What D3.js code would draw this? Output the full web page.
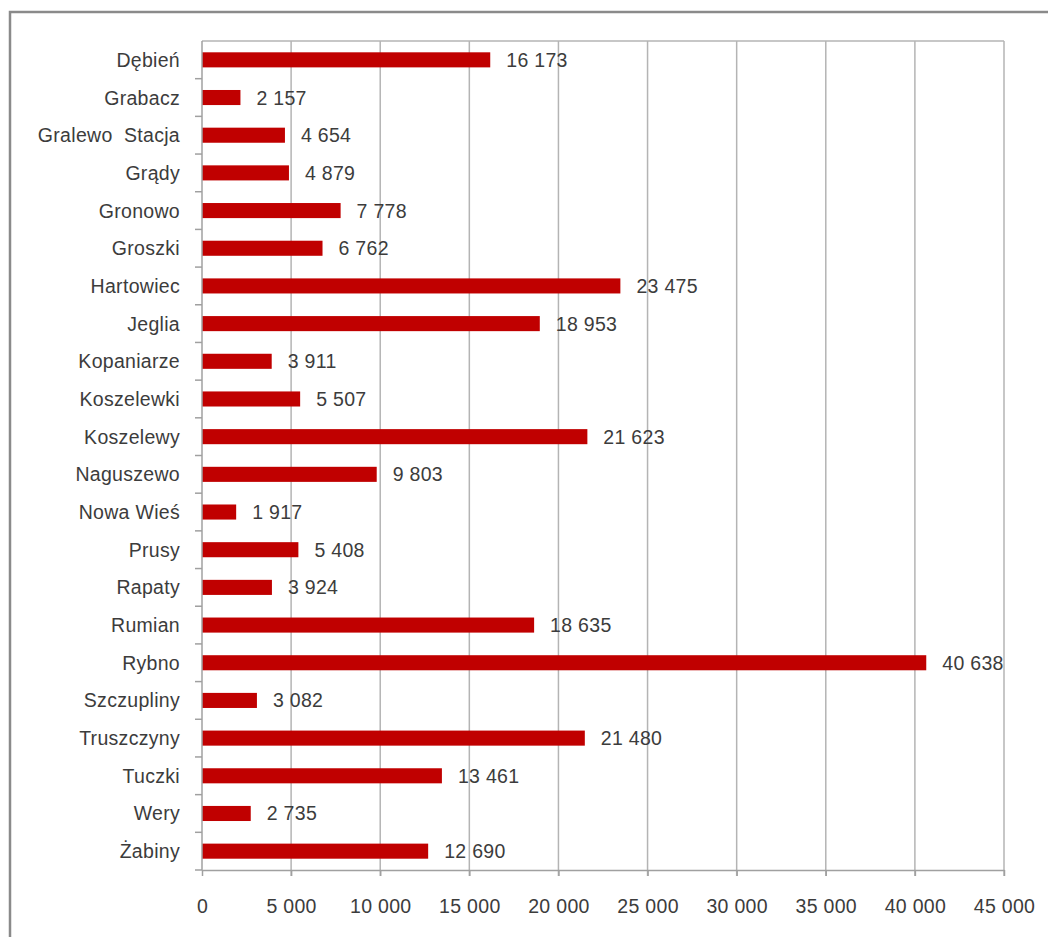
<!DOCTYPE html>
<html>
<head>
<meta charset="utf-8">
<script src="https://cdn.jsdelivr.net/npm/d3@7"></script>
<style>
  body { margin: 0; background: #fff; }
  svg { display: block; font-family: "Liberation Sans", Arial, sans-serif; }
  .lbl { font-size: 19.5px; letter-spacing: 0.3px; fill: #3c3c3c; }
</style>
</head>
<body>
<div id="chart"></div>
<script>
const places = ["Dębień", "Grabacz", "Gralewo  Stacja", "Grądy", "Gronowo", "Groszki", "Hartowiec", "Jeglia", "Kopaniarze", "Koszelewki", "Koszelewy", "Naguszewo", "Nowa Wieś", "Prusy", "Rapaty", "Rumian", "Rybno", "Szczupliny", "Truszczyny", "Tuczki", "Wery", "Żabiny"];
const values = [16173, 2157, 4654, 4879, 7778, 6762, 23475, 18953, 3911, 5507, 21623, 9803, 1917, 5408, 3924, 18635, 40638, 3082, 21480, 13461, 2735, 12690];
const xTicks = [0, 5000, 10000, 15000, 20000, 25000, 30000, 35000, 40000, 45000];

const w = 1048, h = 937;
const plotL = 202, plotR = 1004, plotT = 41, plotB = 870;
const fmt = n => d3.format(",")(n).replace(/,/g, " ");

const svg = d3.select("#chart").append("svg")
  .attr("width", w)
  .attr("height", h);

// outer frame (only top and left edges visible)
svg.append("path")
  .attr("d", `M10,${h} V12 H${w}`)
  .attr("fill", "none")
  .attr("stroke", "#8a8a8a")
  .attr("stroke-width", 2.5);

const x = d3.scaleLinear().domain([0, 45000]).range([plotL, plotR]);
const y = d3.scaleBand().domain(places).range([plotT, plotB]).paddingInner(0.6).paddingOuter(0.3);
const band = d3.scaleBand().domain(places).range([plotT, plotB]);

// gridlines
svg.append("g").selectAll("line")
  .data(xTicks.slice(1))
  .enter().append("line")
  .attr("x1", d => x(d)).attr("x2", d => x(d))
  .attr("y1", plotT).attr("y2", plotB + 6)
  .attr("stroke", "#b4b4b4")
  .attr("stroke-width", 1.5);

svg.append("line")
  .attr("x1", plotL).attr("x2", plotR)
  .attr("y1", plotT).attr("y2", plotT)
  .attr("stroke", "#b4b4b4")
  .attr("stroke-width", 1.5);

// bars
svg.append("g").selectAll("rect")
  .data(places)
  .enter().append("rect")
  .attr("x", x(0))
  .attr("y", d => y(d))
  .attr("width", (d, i) => x(values[i]) - x(0))
  .attr("height", y.bandwidth())
  .attr("fill", "#c00000");

// value labels
svg.append("g").selectAll("text")
  .data(places)
  .enter().append("text")
  .attr("class", "lbl")
  .attr("x", (d, i) => x(values[i]) + 16)
  .attr("y", d => y(d) + y.bandwidth() / 2)
  .attr("dy", "0.36em")
  .text((d, i) => fmt(values[i]));

// x axis
const xAxis = d3.axisBottom(x)
  .tickValues(xTicks)
  .tickFormat(fmt)
  .tickSize(6)
  .tickSizeOuter(0);

const gx = svg.append("g")
  .attr("transform", `translate(0, ${plotB})`)
  .call(xAxis);
gx.select(".domain").attr("stroke", "#a0a0a0").attr("stroke-width", 1.5);
gx.selectAll(".tick line").attr("stroke", "#a0a0a0").attr("stroke-width", 1.5);
gx.selectAll(".tick text")
  .attr("class", "lbl")
  .attr("y", 29)
  .attr("font-size", null)
  .attr("font-family", "Liberation Sans, Arial, sans-serif")
  .attr("fill", null);

// y axis
const gy = svg.append("g")
  .attr("transform", `translate(${plotL}, 0)`);
gy.append("line")
  .attr("y1", plotT).attr("y2", plotB)
  .attr("stroke", "#a0a0a0")
  .attr("stroke-width", 1.5);
gy.selectAll("line.tk")
  .data(places)
  .enter().append("line")
  .attr("class", "tk")
  .attr("x1", -7).attr("x2", 0)
  .attr("y1", d => band(d) + band.step())
  .attr("y2", d => band(d) + band.step())
  .attr("stroke", "#a0a0a0")
  .attr("stroke-width", 1.5);
gy.selectAll("text")
  .data(places)
  .enter().append("text")
  .attr("class", "lbl")
  .attr("x", -22)
  .attr("y", d => y(d) + y.bandwidth() / 2)
  .attr("dy", "0.36em")
  .attr("text-anchor", "end")
  .style("white-space", "pre")
  .text(d => d);
</script>
</body>
</html>
